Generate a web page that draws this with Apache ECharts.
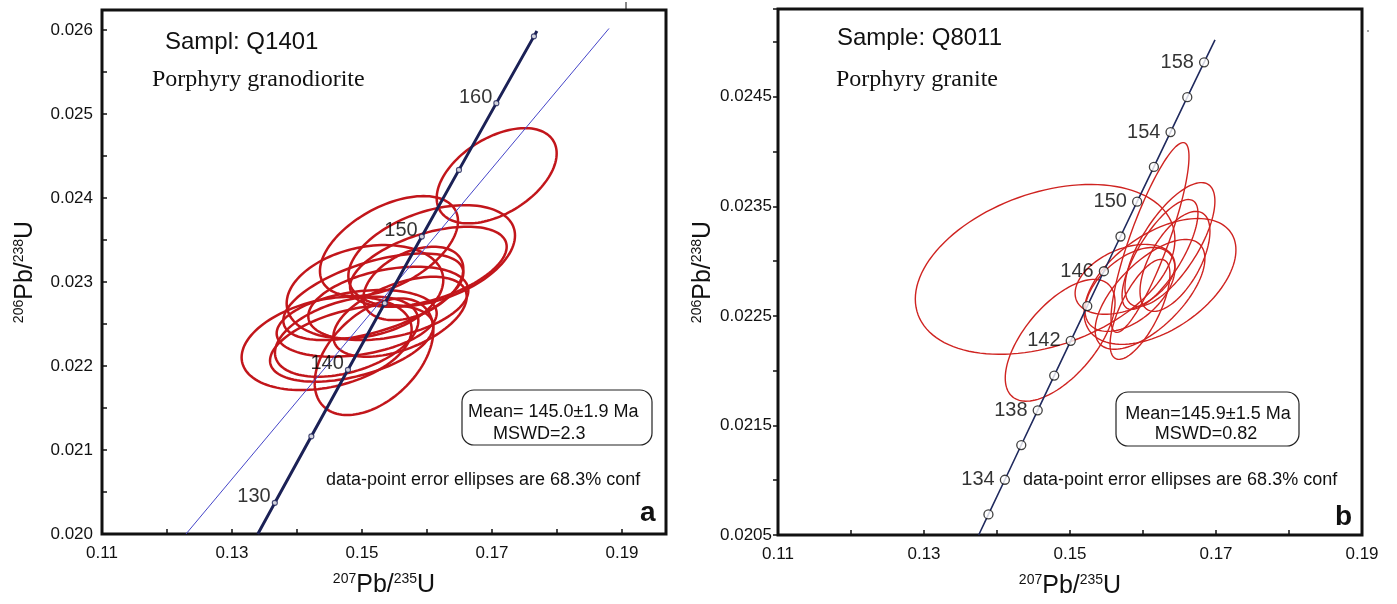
<!DOCTYPE html>
<html>
<head>
<meta charset="utf-8">
<title>U-Pb concordia</title>
<script src="https://cdn.jsdelivr.net/npm/echarts@6/dist/echarts.min.js"></script>
<style>
html, body { margin: 0; padding: 0; background: #fff; }
#chart { width: 1397px; height: 604px; }
</style>
</head>
<body>
<div id="chart"></div>
<script>
// ---- panel a : Q1401 ----
var concAgeA = [130, 135, 140, 145, 150, 155, 160, 165];
var concXA = [0.13659, 0.14221, 0.14784, 0.15350, 0.15920, 0.16492, 0.17067, 0.17645];
var concYA = [0.020371, 0.021163, 0.021955, 0.022748, 0.023542, 0.024336, 0.025131, 0.025926];
var concEndXA = [0.13397, 0.17691];
var concEndYA = [0.02000, 0.02599];
var labelAgesA = [130, 140, 150, 160];
var refLineXA = [0.12292, 0.18800];
var refLineYA = [0.02000, 0.02602];

var ellXA = [0.17072, 0.15415, 0.16072, 0.16021, 0.15046, 0.15405, 0.14456, 0.14841, 0.14764, 0.15185, 0.15585, 0.15174, 0.14918, 0.15790];
var ellYA = [0.024266, 0.023429, 0.023313, 0.023183, 0.022885, 0.022746, 0.022270, 0.022270, 0.022349, 0.022111, 0.022587, 0.022825, 0.022508, 0.022984];
var ellSxA = [0.00923, 0.01062, 0.01282, 0.01205, 0.01205, 0.01231, 0.01308, 0.01256, 0.01103, 0.00913, 0.01026, 0.01385, 0.01231, 0.00769];
var ellSyA = [0.000567, 0.000595, 0.000603, 0.000476, 0.000556, 0.000437, 0.000556, 0.000456, 0.000476, 0.000694, 0.000476, 0.000516, 0.000397, 0.000437];
var ellRhoA = [0.47, 0.5, 0.4, 0.5, 0.25, 0.35, 0.3, 0.45, 0.4, 0.45, 0.5, 0.55, 0.3, 0.4];

// ---- panel b : Q8011 ----
var concAgeB = [132, 134, 136, 138, 140, 142, 144, 146, 148, 150, 152, 154, 156, 158];
var concXB = [0.138828, 0.141080, 0.143324, 0.145578, 0.147837, 0.150100, 0.152367, 0.154639, 0.156916, 0.159197, 0.161492, 0.163772, 0.166067, 0.168366];
var concYB = [0.020688, 0.021004, 0.021321, 0.021638, 0.021955, 0.022272, 0.022589, 0.022907, 0.023224, 0.023542, 0.023859, 0.024177, 0.024495, 0.024813];
var concEndXB = [0.137494, 0.169864];
var concEndYB = [0.0205, 0.025019];
var labelAgesB = [134, 138, 142, 146, 150, 154, 158];

var ellXB = [0.14659, 0.14865, 0.16096, 0.16233, 0.16369, 0.16233, 0.15822, 0.16096, 0.16438, 0.15959, 0.15754];
var ellYB = [0.022924, 0.022277, 0.023215, 0.022814, 0.023151, 0.023060, 0.022741, 0.022696, 0.022997, 0.022559, 0.022833];
var ellSxB = [0.01778, 0.00752, 0.00534, 0.0104, 0.00616, 0.0052, 0.00616, 0.00752, 0.00479, 0.0041, 0.00684];
var ellSyB = [0.000775, 0.000556, 0.000866, 0.000574, 0.000565, 0.000501, 0.000383, 0.000501, 0.000456, 0.000456, 0.000319];
var ellRhoB = [0.35, 0.62, 0.85, 0.5, 0.7, 0.75, 0.5, 0.65, 0.6, 0.7, 0.4];

var FONT = '"Liberation Sans", Arial, sans-serif';
var SERIF = '"Liberation Serif", "Times New Roman", serif';

function ellipseData(xs, ys, sxs, sys, rhos) {
    var out = [];
    for (var i = 0; i < xs.length; i++) {
        out.push([xs[i], ys[i], sxs[i], sys[i], rhos[i]]);
    }
    return out;
}

// error ellipse from centre, sigmas and correlation, drawn through the axes
function ellipseRender(color, width) {
    return function (params, api) {
        var cx = api.value(0), cy = api.value(1), sx = api.value(2), sy = api.value(3), r = api.value(4);
        var q = Math.sqrt(1 - r * r);
        var pts = [];
        for (var k = 0; k < 120; k++) {
            var t = 2 * Math.PI * k / 120;
            pts.push(api.coord([cx + sx * Math.cos(t), cy + sy * (r * Math.cos(t) + q * Math.sin(t))]));
        }
        return {
            type: 'polygon',
            shape: { points: pts },
            style: { fill: 'none', stroke: color, lineWidth: width }
        };
    };
}

function lineData(endX, endY, xs, ys) {
    var out = [[endX[0], endY[0]]];
    for (var i = 0; i < xs.length; i++) out.push([xs[i], ys[i]]);
    out.push([endX[1], endY[1]]);
    return out;
}

function markerData(ages, xs, ys, labelled) {
    return ages.map(function (a, i) {
        return { value: [xs[i], ys[i], a], label: { show: labelled.indexOf(a) >= 0 } };
    });
}

function superName(a, b) {
    return '{sup|' + a + '}{base|Pb/}{sup|' + b + '}{base|U}';
}
var nameRich = {
    base: { fontSize: 25, fontFamily: FONT, color: '#111', verticalAlign: 'bottom', lineHeight: 28 },
    sup: { fontSize: 14, fontFamily: FONT, color: '#111', verticalAlign: 'top', lineHeight: 28, padding: [2, 0, 0, 0] }
};

var tickStyle = { color: '#111', width: 1.5 };

function oddHundredths(v) {
    var n = Math.round(v * 100);
    return (Math.abs(v * 100 - n) < 1e-6 && n % 2 === 1) ? (n / 100).toFixed(2) : '';
}

var myChart = echarts.init(document.getElementById('chart'));

var option = {
    animation: false,
    textStyle: { fontFamily: FONT },
    grid: [
        { left: 102, top: 10, width: 564, height: 524, show: true, borderColor: '#111', borderWidth: 3, backgroundColor: 'transparent' },
        { left: 778, top: 9, width: 584, height: 527, show: true, borderColor: '#111', borderWidth: 3, backgroundColor: 'transparent' }
    ],
    xAxis: [
        {
            gridIndex: 0, type: 'value', min: 0.11, max: 0.19677, interval: 0.01,
            splitLine: { show: false }, axisLine: { show: false },
            axisTick: { inside: true, length: 5, lineStyle: tickStyle },
            axisLabel: { fontSize: 17, color: '#111', margin: 11, fontFamily: FONT, formatter: oddHundredths },
            name: superName(207, 235), nameLocation: 'middle', nameGap: 36,
            nameTextStyle: { rich: nameRich }
        },
        {
            gridIndex: 1, type: 'value', min: 0.11, max: 0.19, interval: 0.01,
            splitLine: { show: false }, axisLine: { show: false },
            axisTick: { inside: true, length: 5, lineStyle: tickStyle },
            axisLabel: { fontSize: 17, color: '#111', margin: 11, fontFamily: FONT, formatter: oddHundredths },
            name: superName(207, 235), nameLocation: 'middle', nameGap: 36,
            nameTextStyle: { rich: nameRich }
        }
    ],
    yAxis: [
        {
            gridIndex: 0, type: 'value', min: 0.020, max: 0.02624, interval: 0.0005,
            splitLine: { show: false }, axisLine: { show: false },
            axisTick: { inside: true, length: 5, lineStyle: tickStyle },
            axisLabel: {
                fontSize: 17, color: '#111', margin: 9, fontFamily: FONT,
                formatter: function (v) {
                    var n = Math.round(v * 1000);
                    return Math.abs(v * 1000 - n) < 1e-6 ? (n / 1000).toFixed(3) : '';
                }
            },
            name: superName(206, 238), nameLocation: 'middle', nameGap: 64, nameRotate: 90,
            nameTextStyle: { rich: nameRich }
        },
        {
            gridIndex: 1, type: 'value', min: 0.0205, max: 0.0253, interval: 0.0005,
            splitLine: { show: false }, axisLine: { show: false },
            axisTick: { inside: false, length: 5, lineStyle: tickStyle },
            axisLabel: {
                fontSize: 17, color: '#111', margin: 6, fontFamily: FONT,
                formatter: function (v) {
                    var n = Math.round(v * 2000);
                    return (Math.abs(v * 2000 - n) < 1e-6 && n % 2 === 1) ? (n / 2000).toFixed(4) : '';
                }
            },
            name: superName(206, 238), nameLocation: 'middle', nameGap: 58, nameRotate: 90,
            nameTextStyle: { rich: nameRich }
        }
    ],
    graphic: [
        { type: 'line', shape: { x1: 626, y1: 2, x2: 626, y2: 9 }, style: { stroke: '#111', lineWidth: 1 } },
        { type: 'circle', shape: { cx: 1368, cy: 31, r: 0.8 }, style: { fill: '#333' } },

        { type: 'text', x: 165, y: 42, style: { text: 'Sampl: Q1401', font: '24px ' + FONT, fill: '#111', textVerticalAlign: 'middle' } },
        { type: 'text', x: 152, y: 80, style: { text: 'Porphyry granodiorite', font: '24px ' + SERIF, fill: '#111', textVerticalAlign: 'middle' } },
        { type: 'rect', shape: { x: 462, y: 390, width: 190, height: 55, r: 12 }, style: { fill: '#fff', stroke: '#222', lineWidth: 1.2 } },
        { type: 'text', x: 468, y: 412, style: { text: 'Mean= 145.0\u00b11.9 Ma', font: '18px ' + FONT, fill: '#111', textVerticalAlign: 'middle' } },
        { type: 'text', x: 493, y: 434, style: { text: 'MSWD=2.3', font: '18px ' + FONT, fill: '#111', textVerticalAlign: 'middle' } },
        { type: 'text', x: 326, y: 480, style: { text: 'data-point error ellipses are 68.3% conf', font: '18px ' + FONT, fill: '#111', textVerticalAlign: 'middle' } },
        { type: 'text', x: 640, y: 513, style: { text: 'a', font: 'bold 28px ' + FONT, fill: '#111', textVerticalAlign: 'middle' } },

        { type: 'text', x: 837, y: 38, style: { text: 'Sample: Q8011', font: '24px ' + FONT, fill: '#111', textVerticalAlign: 'middle' } },
        { type: 'text', x: 836, y: 80, style: { text: 'Porphyry granite', font: '24px ' + SERIF, fill: '#111', textVerticalAlign: 'middle' } },
        { type: 'rect', shape: { x: 1116, y: 392, width: 183, height: 54, r: 12 }, style: { fill: '#fff', stroke: '#222', lineWidth: 1.2 } },
        { type: 'text', x: 1208, y: 414, style: { text: 'Mean=145.9\u00b11.5 Ma', font: '18px ' + FONT, fill: '#111', textAlign: 'center', textVerticalAlign: 'middle' } },
        { type: 'text', x: 1206, y: 434, style: { text: 'MSWD=0.82', font: '18px ' + FONT, fill: '#111', textAlign: 'center', textVerticalAlign: 'middle' } },
        { type: 'text', x: 1023, y: 480, style: { text: 'data-point error ellipses are 68.3% conf', font: '18px ' + FONT, fill: '#111', textVerticalAlign: 'middle' } },
        { type: 'text', x: 1335, y: 517, style: { text: 'b', font: 'bold 28px ' + FONT, fill: '#111', textVerticalAlign: 'middle' } }
    ],
    series: [
        {
            type: 'custom', xAxisIndex: 0, yAxisIndex: 0, z: 2, silent: true,
            renderItem: ellipseRender('#c2161b', 2.5),
            encode: { x: 0, y: 1 },
            data: ellipseData(ellXA, ellYA, ellSxA, ellSyA, ellRhoA)
        },
        {
            type: 'line', xAxisIndex: 0, yAxisIndex: 0, z: 3, silent: true, showSymbol: false,
            lineStyle: { color: '#4545c8', width: 1 },
            data: [[refLineXA[0], refLineYA[0]], [refLineXA[1], refLineYA[1]]]
        },
        {
            type: 'line', xAxisIndex: 0, yAxisIndex: 0, z: 4, silent: true, showSymbol: false,
            lineStyle: { color: '#1b2156', width: 3 },
            data: lineData(concEndXA, concEndYA, concXA, concYA)
        },
        {
            type: 'scatter', xAxisIndex: 0, yAxisIndex: 0, z: 5, silent: true,
            symbol: 'circle', symbolSize: 5,
            itemStyle: { color: '#fff', borderColor: '#1b2156', borderWidth: 1.2 },
            label: {
                position: 'left', distance: 1, offset: [0, -6], fontSize: 20, color: '#000',
                textBorderWidth: 0, fontFamily: FONT,
                formatter: function (p) { return p.value[2]; }
            },
            data: markerData(concAgeA, concXA, concYA, labelAgesA)
        },
        {
            type: 'custom', xAxisIndex: 1, yAxisIndex: 1, z: 2, silent: true,
            renderItem: ellipseRender('#cf2320', 1.4),
            encode: { x: 0, y: 1 },
            data: ellipseData(ellXB, ellYB, ellSxB, ellSyB, ellRhoB)
        },
        {
            type: 'line', xAxisIndex: 1, yAxisIndex: 1, z: 4, silent: true, showSymbol: false,
            lineStyle: { color: '#202a5e', width: 1.6 },
            data: lineData(concEndXB, concEndYB, concXB, concYB)
        },
        {
            type: 'scatter', xAxisIndex: 1, yAxisIndex: 1, z: 5, silent: true,
            symbol: 'circle', symbolSize: 9,
            itemStyle: { color: '#fff', borderColor: '#111', borderWidth: 1.3 },
            label: {
                position: 'left', distance: 5, fontSize: 20, color: '#000',
                textBorderWidth: 0, fontFamily: FONT,
                formatter: function (p) { return p.value[2]; }
            },
            data: markerData(concAgeB, concXB, concYB, labelAgesB)
        }
    ]
};

myChart.setOption(option, true);
</script>
</body>
</html>
